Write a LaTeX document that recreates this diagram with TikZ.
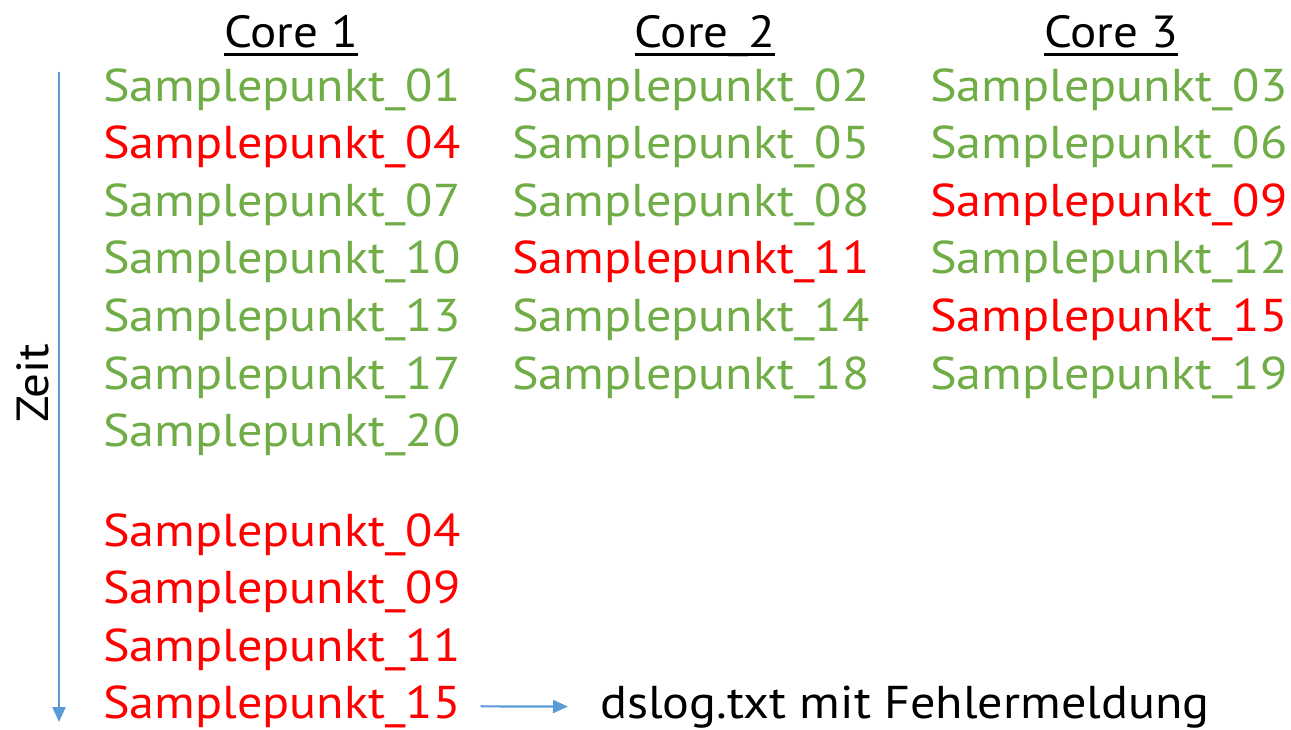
\documentclass[tikz,border=0pt]{standalone}
\usepackage{fontspec}
\setmainfont[FakeStretch=1.09]{PT Sans}
\usepackage{tikz}
\usetikzlibrary{positioning, arrows.meta}
\definecolor{okgreen}{HTML}{70AD47}
\definecolor{errred}{HTML}{FF0000}
\definecolor{timeblue}{HTML}{5B9BD5}
\newcommand*{\hdline}[1]{\setbox0\hbox{#1}\rlap{\rule[-8pt]{\wd0}{2.5pt}}\box0}
\tikzset{
 sp/.style={anchor=base west, inner sep=0pt, font=\fontsize{46}{50}\selectfont},
 ok/.style={sp, text=okgreen},
 err/.style={sp, text=errred},
 head/.style={anchor=base, inner sep=0pt, font=\fontsize{45}{50}\selectfont},
 timearrow/.style={timeblue, line width=2.2pt, -{Triangle[length=15pt,width=13pt]}}
}

\begin{document}
\begin{tikzpicture}[x=1pt,y=1pt]
 \useasboundingbox (0,0) rectangle (1291,-730);

 \node[head] (h1) at (291,-48) {\hdline{Core 1}};
 \node[head] (h2) at (705,-48) {\hdline{Core\_2}};
 \node[head] (h3) at (1111,-48) {\hdline{Core 3}};

 \node[ok]  (a01) at (103,-102) {Samplepunkt\_01};
 \node[err] (a04) at (103,-159) {Samplepunkt\_04};
 \node[ok]  (a07) at (103,-217) {Samplepunkt\_07};
 \node[ok]  (a10) at (103,-274) {Samplepunkt\_10};
 \node[ok]  (a13) at (103,-331) {Samplepunkt\_13};
 \node[ok]  (a17) at (103,-389) {Samplepunkt\_17};
 \node[ok]  (a20) at (103,-446) {Samplepunkt\_20};

 \node[ok]  (b02) at (512,-102) {Samplepunkt\_02};
 \node[ok]  (b05) at (512,-159) {Samplepunkt\_05};
 \node[ok]  (b08) at (512,-217) {Samplepunkt\_08};
 \node[err] (b11) at (512,-274) {Samplepunkt\_11};
 \node[ok]  (b14) at (512,-331) {Samplepunkt\_14};
 \node[ok]  (b18) at (512,-389) {Samplepunkt\_18};

 \node[ok]  (c03) at (930,-102) {Samplepunkt\_03};
 \node[ok]  (c06) at (930,-159) {Samplepunkt\_06};
 \node[err] (c09) at (930,-217) {Samplepunkt\_09};
 \node[ok]  (c12) at (930,-274) {Samplepunkt\_12};
 \node[err] (c15) at (930,-331) {Samplepunkt\_15};
 \node[ok]  (c19) at (930,-389) {Samplepunkt\_19};

 \node[err] (e04) at (103,-546) {Samplepunkt\_04};
 \node[err] (e09) at (103,-603) {Samplepunkt\_09};
 \node[err] (e11) at (103,-661) {Samplepunkt\_11};
 \node[err] (e15) at (103,-718) {Samplepunkt\_15};

 \node[sp, text=black] (log) at (600,-718) {dslog.txt mit Fehlermeldung};
 \node[inner sep=0pt, rotate=90, font=\fontsize{45}{50}\selectfont] (zeit) at (33,-383) {Zeit};

 \coordinate (t0) at (59,-72);
 \coordinate (t1) at (59,-722);
 \draw[timearrow] (t0) -- (t1);
 \draw[timearrow] ([xshift=20pt]e15.east) -- ([xshift=-32pt]log.west);
\end{tikzpicture}
\end{document}
